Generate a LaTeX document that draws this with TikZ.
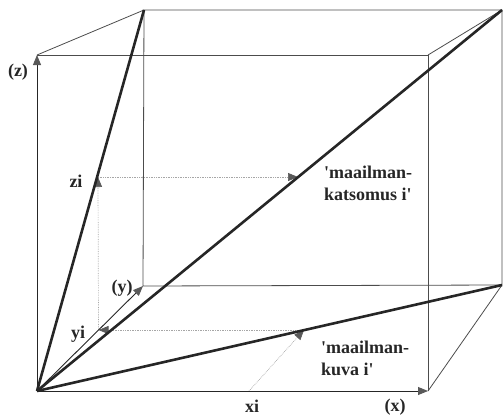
\documentclass[tikz,border=0pt]{standalone}
\usepackage{fontspec}
\setmainfont{Liberation Serif}
\usetikzlibrary{arrows.meta,calc}

\begin{document}
\begin{tikzpicture}[x=1pt,y=-1pt,
    edge/.style={draw=black!70, line width=0.8pt},
    axis/.style={draw=black!85, line width=0.9pt, -{Triangle[length=10pt,width=8pt,color=black!65]}},
    ray/.style={draw=black!85, line width=2.6pt},
    guide/.style={draw=black!35, densely dotted, line width=0.7pt, -{Triangle[length=10pt,width=8pt,color=black!65]}},
    lbl/.style={font=\fontsize{18}{22}\selectfont\bfseries, text=black!85, inner sep=0pt}]
  \useasboundingbox (0,0) rectangle (503,416);
  % corners of the box
  \coordinate (O) at (37,391);
  \coordinate (ftl) at (37,55);
  \coordinate (ftr) at (428,55);
  \coordinate (fbr) at (428,391);
  \coordinate (btl) at (144,10);
  \coordinate (btr) at (502,10);
  \coordinate (bbl) at (143,286);
  \coordinate (bbr) at (502,285);
  % points of the projections
  \coordinate (yi) at (98.5,330);
  \coordinate (zi) at (98,177);
  \coordinate (xi) at (249,391);
  \coordinate (kuva) at (304,330);
  \coordinate (katsomus) at (298,177);

  % box
  \draw[edge] (ftl) -- (ftr) -- (fbr);
  \draw[edge] (btl) -- (btr) -- (bbr) -- (bbl) -- cycle;
  \draw[edge] (ftl) -- (btl);
  \draw[edge] (ftr) -- (btr);
  \draw[edge] (fbr) -- (bbr);

  % projections
  \draw[guide] (xi) -- (kuva);
  \draw[guide] (kuva) -- (yi);
  \draw[guide] (yi) -- (zi);
  \draw[guide] (zi) -- (katsomus);

  % vectors
  \draw[ray] (O) -- (btl);
  \draw[ray] (O) -- (btr);
  \draw[ray] (O) -- (bbr);

  % axes
  \draw[axis] (O) -- (ftl);
  \draw[axis] (O) -- (fbr);
  \draw[axis] (O) -- (bbl);

  % labels
  \node[lbl] (zlab) at (18,72) {(z)};
  \node[lbl] (xlab) at (395,407) {(x)};
  \node[lbl] (ylab) at (122,288) {(y)};
  \node[lbl] (zilab) at (76,181) {zi};
  \node[lbl] (yilab) at (78,334) {yi};
  \node[lbl] (xilab) at (252,406) {xi};
  \node[lbl, align=left, anchor=west] (katslab) at (324,183) {\textquotesingle maailman-\\katsomus i\textquotesingle};
  \node[lbl, align=left, anchor=west] (kuvalab) at (321,358) {\textquotesingle maailman-\\kuva i\textquotesingle};
\end{tikzpicture}
\end{document}
